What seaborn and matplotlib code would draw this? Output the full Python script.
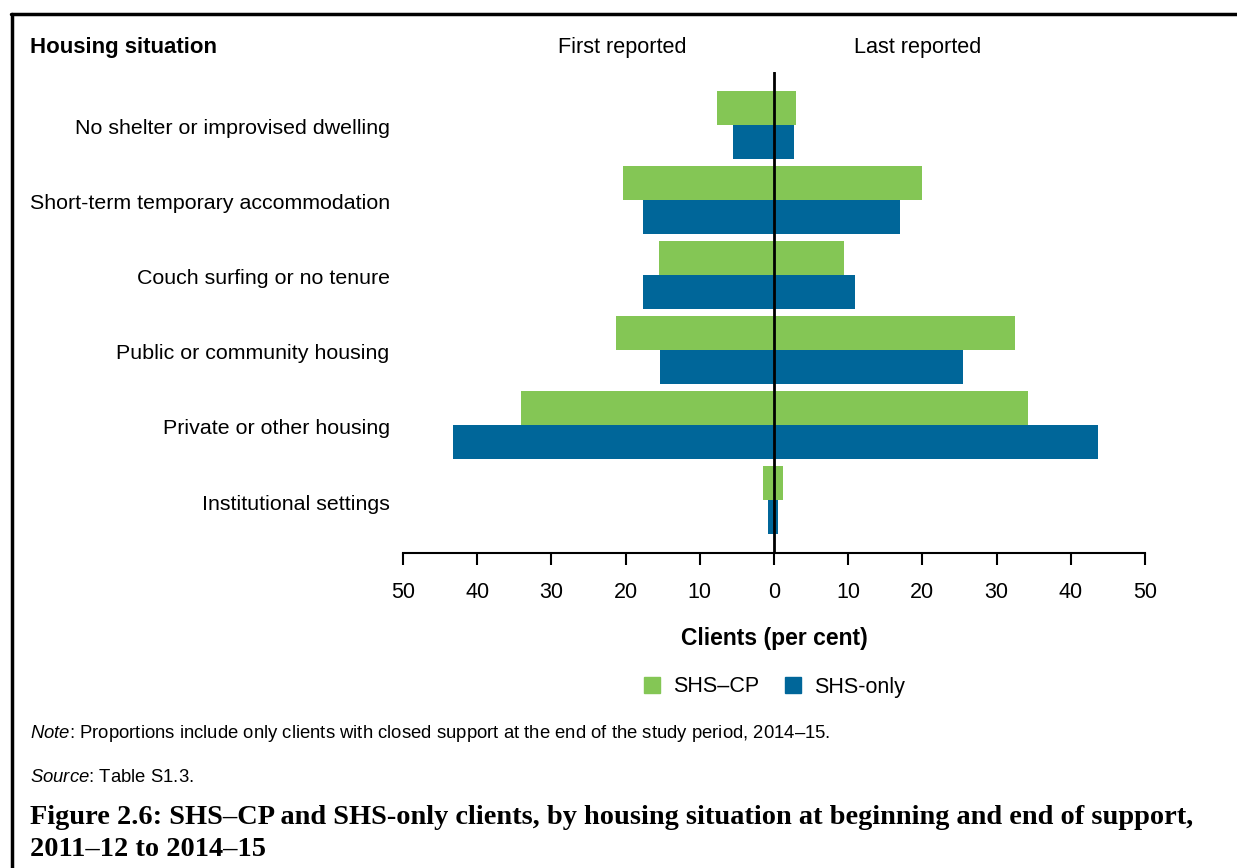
import pandas as pd
import seaborn as sns
import matplotlib.pyplot as plt
from matplotlib.patches import Patch
from matplotlib.lines import Line2D

categories = [
    "No shelter or improvised dwelling",
    "Short-term temporary accommodation",
    "Couch surfing or no tenure",
    "Public or community housing",
    "Private or other housing",
    "Institutional settings",
]
series = ["SHS–CP", "SHS-only"]

first_cp = [7.7, 20.4, 15.5, 21.3, 34.1, 1.5]
first_only = [5.5, 17.7, 17.7, 15.4, 43.3, 0.8]
last_cp = [3.0, 19.9, 9.4, 32.5, 34.2, 1.2]
last_only = [2.7, 17.0, 10.9, 25.5, 43.7, 0.5]

ticks = [-50, -40, -30, -20, -10, 0, 10, 20, 30, 40, 50]
tick_labels = ["50", "40", "30", "20", "10", "0", "10", "20", "30", "40", "50"]

colors = {"SHS–CP": "#84C655", "SHS-only": "#006699"}

first_df = pd.DataFrame({
    "category": categories * 2,
    "series": [series[0]] * 6 + [series[1]] * 6,
    "value": [-v for v in first_cp] + [-v for v in first_only],
})
last_df = pd.DataFrame({
    "category": categories * 2,
    "series": [series[0]] * 6 + [series[1]] * 6,
    "value": last_cp + last_only,
})

sns.set_style("white")
plt.rcParams["font.family"] = ["Liberation Sans", "DejaVu Sans"]
plt.rcParams["text.color"] = "black"
plt.rcParams["mathtext.fontset"] = "custom"
plt.rcParams["mathtext.rm"] = "Liberation Sans"
plt.rcParams["mathtext.it"] = "Liberation Sans:italic"

W, H = 1237, 868
fig = plt.figure(figsize=(W / 100, H / 100), dpi=100)
ax = fig.add_axes([403 / W, 1 - 553 / H, (1145 - 403) / W, (553 - 72) / H])

for df in (first_df, last_df):
    sns.barplot(data=df, y="category", x="value", hue="series", orient="h",
                palette=colors, width=0.907, gap=0, dodge=True, linewidth=0,
                legend=False, ax=ax, saturation=1, errorbar=None)

ax.axvline(0, color="black", lw=2, zorder=5)
ax.set_xlim(-50, 50)
ax.set_ylim(5.7, -0.7)
ax.set_xticks(ticks)
ax.set_xticklabels(tick_labels, fontsize=15.5, color="black")
ax.tick_params(axis="x", bottom=True, direction="out", length=8.6, width=1.5,
               color="black", pad=12.5)
ax.set_yticks([])
ax.set_ylabel("")
ax.set_xlabel("Clients (per cent)", fontsize=16.5, fontweight="bold", labelpad=17, color="black")
for side in ["top", "left", "right"]:
    ax.spines[side].set_visible(False)
ax.spines["bottom"].set_linewidth(1.5)
ax.spines["bottom"].set_color("black")

for i, cat in enumerate(categories):
    ax.text(-51.8, i + 0.05, cat, ha="right", va="center", fontsize=15.4)

fig.text(30 / W, 1 - 47 / H, "Housing situation", fontsize=16, fontweight="bold", va="center")
fig.text(622 / W, 1 - 47 / H, "First reported", fontsize=15.6, ha="center", va="center")
fig.text(918 / W, 1 - 47 / H, "Last reported", fontsize=15.6, ha="center", va="center")

handles = [Patch(color=colors[s], label=s) for s in series]
fig.legend(handles=handles, loc="center", bbox_to_anchor=(774 / W, 1 - 687 / H), ncol=2,
           frameon=False, fontsize=15.5, handlelength=0.75, handleheight=0.75,
           handletextpad=0.6, columnspacing=1.2)

fig.text(30 / W, 1 - 733 / H,
         r"$\it{Note}$" + ": Proportions include only clients with closed support at the end of the study period, 2014–15.",
         fontsize=13.3, va="center")
fig.text(30 / W, 1 - 777 / H, r"$\it{Source}$" + ": Table S1.3.", fontsize=13.3, va="center")
fig.text(30 / W, 1 - 817 / H,
         "Figure 2.6: SHS–CP and SHS-only clients, by housing situation at beginning and end of support,",
         fontsize=20.4, fontweight="bold", family="Liberation Serif", va="center")
fig.text(30 / W, 1 - 849 / H, "2011–12 to 2014–15",
         fontsize=20.4, fontweight="bold", family="Liberation Serif", va="center")

fig.add_artist(Line2D([11 / W, 1], [1 - 14 / H, 1 - 14 / H], color="black", lw=2.5))
fig.add_artist(Line2D([12 / W, 12 / W], [1 - 14 / H, 0], color="black", lw=2.5))

fig.savefig("out.png", dpi=100)
